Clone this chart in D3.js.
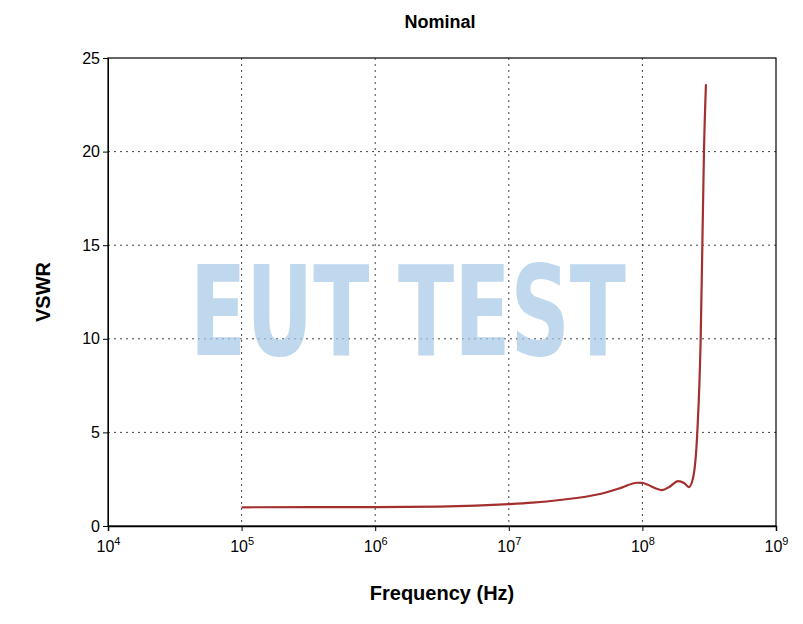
<!DOCTYPE html>
<html><head><meta charset="utf-8">
<script src="https://cdn.jsdelivr.net/npm/d3@7"></script>
<style>body{margin:0;background:#fff;font-family:"Liberation Sans",Arial,sans-serif}</style>
</head><body>
<svg id="chart" width="803" height="624"></svg>
<script>
var freq = [1e5, 1e6, 3e6, 1e7, 1.5e7, 2.4e7, 4.8e7, 7e7, 9.1e7, 1.0e8, 1.1e8, 1.25e8, 1.4e8, 1.6e8, 1.85e8, 2.05e8, 2.23e8, 2.4e8, 2.58e8, 2.73e8, 2.81e8, 2.89e8, 2.99e8];
var vswr = [1.0, 1.01, 1.04, 1.17, 1.25, 1.39, 1.71, 2.05, 2.31, 2.3, 2.2, 2.02, 1.92, 2.1, 2.4, 2.3, 2.08, 2.6, 5.1, 10, 15, 20, 23.6];
var xTicks = [1e4, 1e5, 1e6, 1e7, 1e8, 1e9];
var yTicks = [0, 5, 10, 15, 20, 25];

var m = {left: 108, right: 776, top: 58, bottom: 526};
var svg = d3.select("#chart");

var xScale = d3.scaleLog().domain([1e4, 1e9]).range([m.left, m.right]);
var yScale = d3.scaleLinear().domain([0, 25]).range([m.bottom, m.top]);

// grid
svg.append("g").selectAll("line").data(xTicks.slice(1, -1)).enter().append("line")
    .attr("x1", function(d) { return xScale(d); }).attr("x2", function(d) { return xScale(d); })
    .attr("y1", m.top).attr("y2", m.bottom)
    .attr("stroke", "#444").attr("stroke-dasharray", "2,4");
svg.append("g").selectAll("line").data(yTicks.slice(1, -1)).enter().append("line")
    .attr("y1", function(d) { return yScale(d); }).attr("y2", function(d) { return yScale(d); })
    .attr("x1", m.left).attr("x2", m.right)
    .attr("stroke", "#444").attr("stroke-dasharray", "2,4");

// watermark
svg.append("text").attr("x", 190).attr("y", 355)
    .attr("font-family", "DejaVu Sans Condensed, DejaVu Sans").attr("font-weight", "bold")
    .attr("font-size", 124).attr("textLength", 436).attr("lengthAdjust", "spacingAndGlyphs")
    .attr("fill", "#a6c8e8").attr("opacity", 0.7)
    .text("EUT TEST");

// frame
svg.append("rect").attr("x", m.left).attr("y", m.top)
    .attr("width", m.right - m.left).attr("height", m.bottom - m.top)
    .attr("fill", "none").attr("stroke", "#000").attr("stroke-width", 1.2);

var xAxis = d3.axisBottom(xScale).tickValues(xTicks).tickSize(5).tickFormat("");
var gx = svg.append("g").attr("transform", "translate(0," + m.bottom + ")").call(xAxis);
gx.select(".domain").attr("stroke-width", 1.5);
gx.selectAll(".tick").each(function(d) {
    var t = d3.select(this).append("text").attr("y", 26).attr("fill", "#000")
        .attr("font-size", 16).attr("text-anchor", "middle");
    t.append("tspan").text("10");
    t.append("tspan").attr("dy", -7).attr("font-size", 11).text(Math.round(Math.log10(d)));
});

var yAxis = d3.axisLeft(yScale).tickValues(yTicks).tickSize(5);
var gy = svg.append("g").attr("transform", "translate(" + m.left + ",0)").call(yAxis);
gy.selectAll("text").attr("font-size", 16).attr("fill", "#000").attr("font-family", "inherit");

// curve
var line = d3.line()
    .x(function(d, i) { return xScale(freq[i]); })
    .y(function(d) { return yScale(d); })
    .curve(d3.curveMonotoneX);
svg.append("path").datum(vswr).attr("d", line)
    .attr("fill", "none").attr("stroke", "#a3302f").attr("stroke-width", 2.2);

// titles
svg.append("text").attr("x", 440).attr("y", 28).attr("text-anchor", "middle")
    .attr("font-weight", "bold").attr("font-size", 18).text("Nominal");
svg.append("text").attr("x", 442).attr("y", 600).attr("text-anchor", "middle")
    .attr("font-weight", "bold").attr("font-size", 20).text("Frequency (Hz)");
svg.append("text").attr("text-anchor", "middle").attr("font-weight", "bold").attr("font-size", 20)
    .attr("transform", "translate(50," + ((m.top + m.bottom) / 2) + ")rotate(-90)").text("VSWR");
</script>
</body></html>
